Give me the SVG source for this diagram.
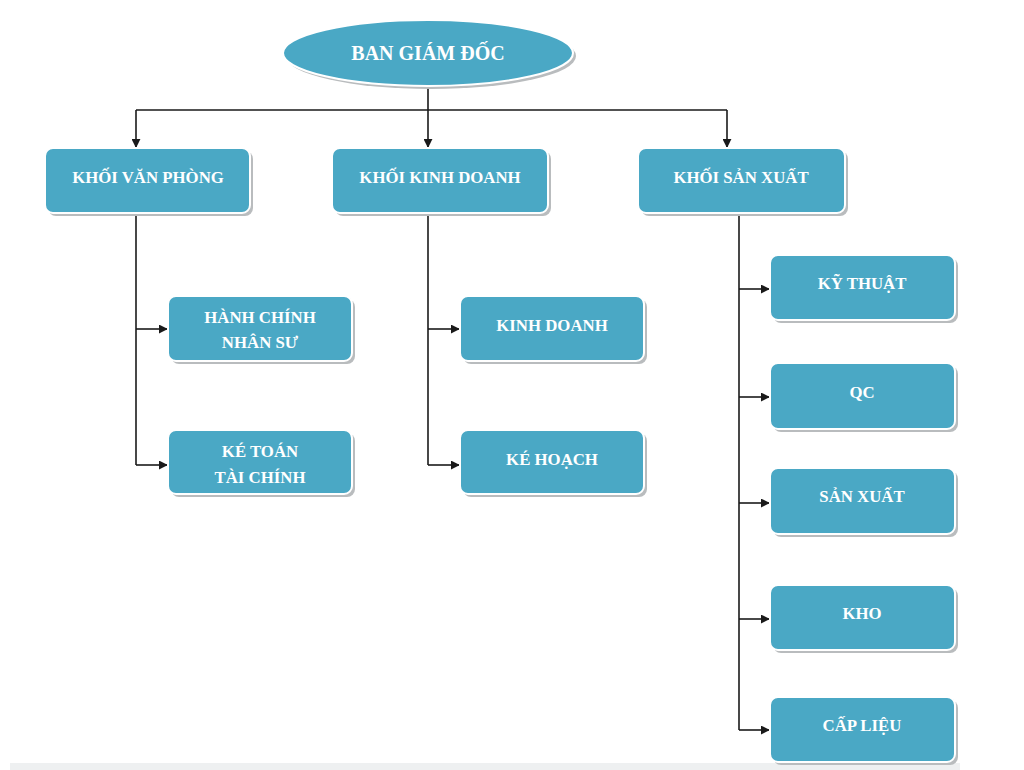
<svg xmlns="http://www.w3.org/2000/svg" width="1024" height="770" viewBox="0 0 1024 770">
<style>
.box{fill:#4aa8c5;stroke:#ffffff;stroke-width:2}
.sh{fill:#b9bcbe}
.t{font-family:"Liberation Serif","DejaVu Serif",serif;font-weight:bold;font-size:16.8px;fill:#ffffff;text-anchor:middle}
.c{fill:none;stroke:#1a1a1a;stroke-width:1.6}
</style>
<defs>
<marker id="ar" viewBox="0 0 10 10" refX="9" refY="5" markerWidth="9" markerHeight="9" orient="auto" markerUnits="userSpaceOnUse">
<path d="M0,0 L10,5 L0,10 z" fill="#1a1a1a"/>
</marker>
</defs>
<rect width="1024" height="770" fill="#ffffff"/>
<rect x="10" y="763" width="950" height="7" fill="#eef0f1"/>
<g id="connectors">
<path class="c" d="M428,88 V110 M136,110 H727"/>
<path class="c" d="M136,110 V147" marker-end="url(#ar)"/>
<path class="c" d="M428,110 V147" marker-end="url(#ar)"/>
<path class="c" d="M727,110 V147" marker-end="url(#ar)"/>
<path class="c" d="M136,214 V465"/>
<path class="c" d="M136,329 H167" marker-end="url(#ar)"/>
<path class="c" d="M136,465 H167" marker-end="url(#ar)"/>
<path class="c" d="M428,214 V465"/>
<path class="c" d="M428,329 H459" marker-end="url(#ar)"/>
<path class="c" d="M428,465 H459" marker-end="url(#ar)"/>
<path class="c" d="M739,214 V730"/>
<path class="c" d="M739,289 H769" marker-end="url(#ar)"/>
<path class="c" d="M739,397 H769" marker-end="url(#ar)"/>
<path class="c" d="M739,503 H769" marker-end="url(#ar)"/>
<path class="c" d="M739,619 H769" marker-end="url(#ar)"/>
<path class="c" d="M739,730 H769" marker-end="url(#ar)"/>
</g>
<g id="ban-giam-doc">
<ellipse cx="431" cy="56" rx="145" ry="33" class="sh"/>
<ellipse cx="428" cy="53" rx="145" ry="33" class="box"/>
<text x="428" y="60" class="t" style="font-size:20px">BAN GIÁM ĐỐC</text>
</g>
<g id="khoi-van-phong">
<rect x="48" y="151" width="205" height="65" rx="8" class="sh"/>
<rect x="45" y="148" width="205" height="65" rx="8" class="box"/>
<text x="148" y="183" class="t">KHỐI VĂN PHÒNG</text>
</g>
<g id="khoi-kinh-doanh">
<rect x="335" y="151" width="216" height="65" rx="8" class="sh"/>
<rect x="332" y="148" width="216" height="65" rx="8" class="box"/>
<text x="440" y="183" class="t">KHỐI KINH DOANH</text>
</g>
<g id="khoi-san-xuat">
<rect x="641" y="151" width="207" height="65" rx="8" class="sh"/>
<rect x="638" y="148" width="207" height="65" rx="8" class="box"/>
<text x="741" y="183" class="t">KHỐI SẢN XUẤT</text>
</g>
<g id="hanh-chinh-nhan-su">
<rect x="171" y="299" width="184" height="65" rx="8" class="sh"/>
<rect x="168" y="296" width="184" height="65" rx="8" class="box"/>
<text x="260" y="323" class="t">HÀNH CHÍNH</text>
<text x="260" y="348" class="t">NHÂN SƯ</text>
</g>
<g id="ke-toan-tai-chinh">
<rect x="171" y="433" width="184" height="64" rx="8" class="sh"/>
<rect x="168" y="430" width="184" height="64" rx="8" class="box"/>
<text x="260" y="457" class="t">KÉ TOÁN</text>
<text x="260" y="483" class="t">TÀI CHÍNH</text>
</g>
<g id="kinh-doanh">
<rect x="463" y="299" width="184" height="65" rx="8" class="sh"/>
<rect x="460" y="296" width="184" height="65" rx="8" class="box"/>
<text x="552" y="331" class="t">KINH DOANH</text>
</g>
<g id="ke-hoach">
<rect x="463" y="433" width="184" height="64" rx="8" class="sh"/>
<rect x="460" y="430" width="184" height="64" rx="8" class="box"/>
<text x="552" y="465" class="t">KÉ HOẠCH</text>
</g>
<g id="ky-thuat">
<rect x="773" y="258" width="185" height="65" rx="8" class="sh"/>
<rect x="770" y="255" width="185" height="65" rx="8" class="box"/>
<text x="862" y="289" class="t">KỸ THUẬT</text>
</g>
<g id="qc">
<rect x="773" y="366" width="185" height="66" rx="8" class="sh"/>
<rect x="770" y="363" width="185" height="66" rx="8" class="box"/>
<text x="862" y="398" class="t">QC</text>
</g>
<g id="san-xuat">
<rect x="773" y="471" width="185" height="66" rx="8" class="sh"/>
<rect x="770" y="468" width="185" height="66" rx="8" class="box"/>
<text x="862" y="502" class="t">SẢN XUẤT</text>
</g>
<g id="kho">
<rect x="773" y="588" width="185" height="65" rx="8" class="sh"/>
<rect x="770" y="585" width="185" height="65" rx="8" class="box"/>
<text x="862" y="619" class="t">KHO</text>
</g>
<g id="cap-lieu">
<rect x="773" y="700" width="185" height="65" rx="8" class="sh"/>
<rect x="770" y="697" width="185" height="65" rx="8" class="box"/>
<text x="862" y="731" class="t">CẤP LIỆU</text>
</g>
</svg>
